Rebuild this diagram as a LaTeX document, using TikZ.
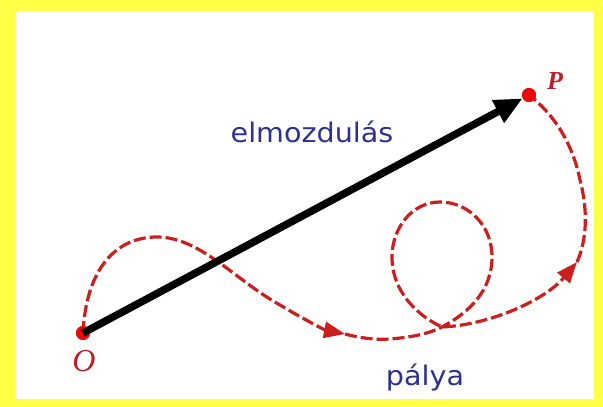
\documentclass[tikz,border=0pt]{standalone}
\usepackage{fontspec}
\newfontfamily\labelfont{DejaVu Sans}
\newfontfamily\seriffont{Liberation Serif}
\usetikzlibrary{arrows.meta}
\definecolor{frameyellow}{RGB}{255,255,70}
\definecolor{pathred}{RGB}{205,30,30}
\definecolor{dotred}{RGB}{235,10,10}
\definecolor{labelblue}{RGB}{46,49,146}
\definecolor{letterred}{RGB}{190,30,40}
\begin{document}
\begin{tikzpicture}[x=1pt,y=-1pt,
  redpath/.style={draw=pathred, line width=3.2pt, dash pattern=on 12pt off 4pt},
  pathtip/.style={-{Triangle[length=21pt,width=16pt]}},
  dotnode/.style={circle, fill=dotred, inner sep=0pt, minimum size=14pt},
  vec/.style={line width=7.5pt, -{Triangle[length=28pt,width=24pt]}},
  word/.style={text=labelblue, font=\labelfont\fontsize{27}{31}\selectfont, xscale=1.06, anchor=base, inner sep=0pt},
  pointlabel/.style={text=letterred, anchor=base, inner sep=0pt}
]
\fill[frameyellow] (0,0) rectangle (603,407);
\fill[white] (15,11) rectangle (594,399);
\useasboundingbox (0,0) rectangle (603,407);
\coordinate (m1) at (345,334);
\coordinate (m2) at (577,262);
\coordinate (cross) at (442,327);
\node[dotnode] (O) at (83,333) {};
\node[dotnode] (P) at (529,95) {};
% trajectory
\draw[redpath, pathtip] (O.center) .. controls (86,270) and (115,237) .. (157,237)
   .. controls (200,237) and (235,280) .. (280,305)
   .. controls (305,320) and (325,330) .. (m1);
\draw[redpath, pathtip] (m1) .. controls (360,338) and (375,340) .. (390,339)
   .. controls (415,337) and (430,333) .. (cross)
   .. controls (470,312) and (492,290) .. (492,257)
   .. controls (492,225) and (468,202) .. (440,202)
   .. controls (412,202) and (392,228) .. (392,257)
   .. controls (392,292) and (418,316) .. (cross)
   .. controls (490,325) and (545,300) .. (m2);
\draw[redpath] (m2) .. controls (587,240) and (588,210) .. (580,180)
   .. controls (573,145) and (555,115) .. (P.center);
\node[dotnode] at (O) {};
\node[dotnode] at (P) {};
% displacement vector
\draw[vec] (O.center) -- (P);
% labels
\node[pointlabel, font=\seriffont\itshape\fontsize{32}{36}\selectfont] (Olabel) at (84,371) {O};
\node[pointlabel, font=\seriffont\bfseries\itshape\fontsize{26}{30}\selectfont] (Plabel) at (555,89) {P};
\node[word] (elm) at (312,142) {elmozdulás};
\node[word] (palya) at (425,385) {pálya};
\end{tikzpicture}
\end{document}
